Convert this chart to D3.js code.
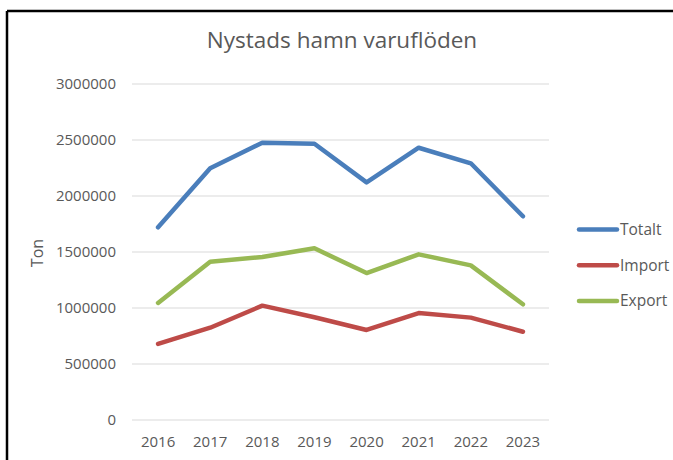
<!DOCTYPE html>
<html>
<head>
<meta charset="utf-8">
<script src="https://cdn.jsdelivr.net/npm/d3@7"></script>
<style>
	body { margin: 0; background: #fff; }
	svg text { font-family: "Open Sans", "Liberation Sans", sans-serif; fill: #595959; }
</style>
</head>
<body>
<svg id="chart" width="673" height="460"></svg>
<script>
// data
var years = ['2016', '2017', '2018', '2019', '2020', '2021', '2022', '2023'];
var totalt = [1720000, 2247000, 2476000, 2467000, 2122000, 2431000, 2292000, 1819000];
var importv = [679000, 824000, 1021000, 917000, 804000, 955000, 914000, 788000];
var exportv = [1045000, 1413000, 1455000, 1533000, 1312000, 1479000, 1381000, 1033000];
var seriesNames = ['Totalt', 'Import', 'Export'];
var seriesColors = ['#4a7ebb', '#be4b48', '#98b954'];
var yTicks = [0, 500000, 1000000, 1500000, 2000000, 2500000, 3000000];

var series = [totalt, importv, exportv];

var svg = d3.select('#chart');

// ram
svg.append('line')
	.attr('x1', 7).attr('y1', 11).attr('x2', 673).attr('y2', 11)
	.attr('stroke', '#000').attr('stroke-width', 2.5);
svg.append('line')
	.attr('x1', 7).attr('y1', 11).attr('x2', 7).attr('y2', 460)
	.attr('stroke', '#000').attr('stroke-width', 2.5);

var x = d3.scaleBand().domain(years).range([132, 549]);
var y = d3.scaleLinear().domain([0, 3000000]).range([420, 84]);

// grid
svg.append('g')
	.selectAll('line')
	.data(yTicks)
	.enter()
	.append('line')
	.attr('x1', 132)
	.attr('x2', 549)
	.attr('y1', function (d) { return y(d); })
	.attr('y2', function (d) { return y(d); })
	.attr('stroke', '#d9d9d9')
	.attr('stroke-width', 1);

var yAxis = svg.append('g')
	.attr('transform', 'translate(132,0)')
	.call(d3.axisLeft(y).tickValues(yTicks).tickFormat(d3.format('d')).tickSize(0).tickPadding(16));
yAxis.select('.domain').remove();
yAxis.selectAll('text').attr('font-size', 15).attr('fill', '#595959').attr('font-family', '"Open Sans", sans-serif');

var xAxis = svg.append('g')
	.attr('transform', 'translate(0,420)')
	.call(d3.axisBottom(x).tickSize(0).tickPadding(16));
xAxis.select('.domain').remove();
xAxis.selectAll('text').attr('font-size', 15).attr('fill', '#595959').attr('font-family', '"Open Sans", sans-serif');

// title
svg.append('text')
	.attr('x', 342)
	.attr('y', 48)
	.attr('text-anchor', 'middle')
	.attr('font-size', 22.5)
	.text('Nystads hamn varuflöden');

svg.append('text')
	.attr('transform', 'translate(43,253) rotate(-90)')
	.attr('text-anchor', 'middle')
	.attr('font-size', 16)
	.text('Ton');

// lines
var line = d3.line()
	.x(function (d, i) { return x(years[i]) + x.bandwidth() / 2; })
	.y(function (d) { return y(d); });

svg.append('g')
	.selectAll('path')
	.data(series)
	.enter()
	.append('path')
	.attr('d', line)
	.attr('fill', 'none')
	.attr('stroke', function (d, i) { return seriesColors[i]; })
	.attr('stroke-width', 4.5)
	.attr('stroke-linejoin', 'round')
	.attr('stroke-linecap', 'round');

// legend
var leg = svg.append('g')
	.selectAll('g')
	.data(seriesNames)
	.enter()
	.append('g')
	.attr('transform', function (d, i) { return 'translate(579,' + (229.5 + i * 35.7) + ')'; });

leg.append('line')
	.attr('x1', 0).attr('x2', 38)
	.attr('stroke', function (d, i) { return seriesColors[i]; })
	.attr('stroke-width', 4.5)
	.attr('stroke-linecap', 'round');

leg.append('text')
	.attr('x', 41)
	.attr('dy', '0.35em')
	.attr('font-size', 15.5)
	.text(function (d) { return d; });
</script>
</body>
</html>
